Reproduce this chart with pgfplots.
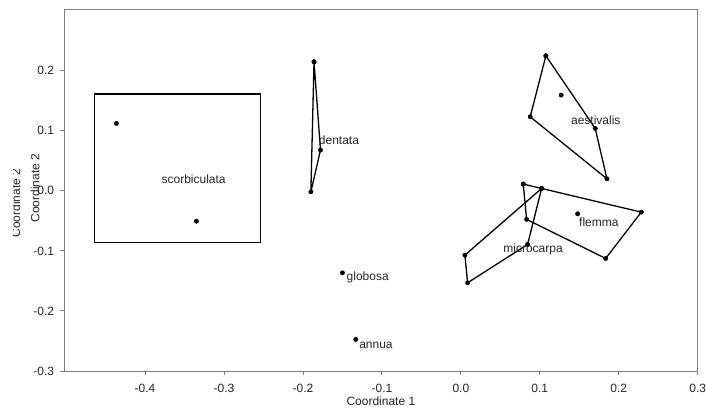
\documentclass[border=0pt]{standalone}
\usepackage{fontspec}
\setmainfont{Liberation Sans}
\usepackage{pgfplots}
\pgfplotsset{compat=1.18}
\begin{document}
\fontsize{12bp}{14bp}\selectfont
\begin{tikzpicture}[x=1bp,y=1bp]
\useasboundingbox (0,0) rectangle (707,409);
\begin{axis}[
  at={(64bp,38bp)}, anchor=south west,
  width=633.7bp, height=361.7bp, scale only axis,
  xmin=-0.5027, xmax=0.3, ymin=-0.3, ymax=0.3022,
  axis line style={black!50, line width=0.9bp},
  tick style={black!50, line width=0.9bp},
  tick align=outside, major tick length=4bp,
  xtick={-0.4,-0.3,-0.2,-0.1,0,0.1,0.2,0.3},
  ytick={-0.3,-0.2,-0.1,0,0.1,0.2},
  xtick pos=left, ytick pos=left,
  /pgf/number format/assume math mode=true,
  /pgf/number format/fixed, /pgf/number format/fixed zerofill, /pgf/number format/precision=1,
  ticklabel style={font=\fontsize{12bp}{14bp}\selectfont, text=black!85},
  xticklabel style={anchor=base, inner sep=0pt, yshift=-17bp},
  yticklabel style={anchor=east, inner sep=0pt, xshift=-5.7bp},
  hull/.style={black, line width=1.3bp, line join=round, mark=*, mark size=2.2bp, mark options={solid, fill=black, line width=0.4bp}},
  pts/.style={only marks, black, mark=*, mark size=2.2bp, mark options={solid, fill=black, line width=0.4bp}},
]
% scorbiculata box and points
\addplot[black, line width=1.3bp, line join=miter, no marks] coordinates {(-0.4639,-0.0866) (-0.2535,-0.0866) (-0.2535,0.161) (-0.4639,0.161) (-0.4639,-0.0866) (-0.2535,-0.0866)};
\addplot[pts] coordinates {(-0.4364,0.1122) (-0.335,-0.0505)};
% dentata
\addplot[hull] coordinates {(-0.186,0.2148) (-0.1778,0.0678) (-0.190,-0.0017) (-0.186,0.2148)};
% globosa, annua
\addplot[pts] coordinates {(-0.150,-0.1366) (-0.1331,-0.2475)};
% aestivalis
\addplot[hull] coordinates {(0.1077,0.2248) (0.1702,0.1039) (0.185,0.020) (0.0878,0.1232) (0.1077,0.2248)};
\addplot[pts] coordinates {(0.1271,0.1594)};
% flemma
\addplot[hull] coordinates {(0.079,0.0112) (0.2285,-0.0355) (0.1834,-0.1126) (0.0833,-0.0476) (0.079,0.0112)};
\addplot[pts] coordinates {(0.1479,-0.0383)};
% microcarpa
\addplot[hull] coordinates {(0.1023,0.004) (0.0051,-0.1071) (0.0085,-0.1532) (0.0845,-0.0893) (0.1023,0.004)};
% labels
\node[anchor=base west, inner sep=0pt, text=black!85] at (axis cs:-0.3793,0.0123) {scorbiculata};
\node[anchor=base west, inner sep=0pt, text=black!85] at (axis cs:-0.180,0.0778) {dentata};
\node[anchor=base west, inner sep=0pt, text=black!85] at (axis cs:-0.1449,-0.149) {globosa};
\node[anchor=base west, inner sep=0pt, text=black!85] at (axis cs:-0.1289,-0.262) {annua};
\node[anchor=base west, inner sep=0pt, text=black!85] at (axis cs:0.1394,0.1106) {aestivalis};
\node[anchor=base west, inner sep=0pt, text=black!85] at (axis cs:0.1496,-0.060) {flemma};
\node[anchor=base west, inner sep=0pt, text=black!85] at (axis cs:0.0536,-0.102) {microcarpa};
\end{axis}
\node[anchor=base, inner sep=0pt, text=black!85] at (380.9,3.5) {Coordinate 1};
\node[anchor=base, inner sep=0pt, rotate=90, text=black!85] at (39.3,220.7) {Coordinate 2};
\node[anchor=base, inner sep=0pt, rotate=90, text=black!85] at (20,206) {Coordinate 2};
\fill[white] (0,0) rectangle (13.3,409);
\end{tikzpicture}
\end{document}
